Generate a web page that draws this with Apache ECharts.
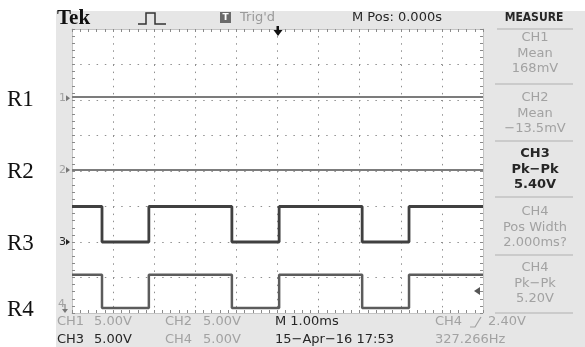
<!DOCTYPE html>
<html><head><meta charset="utf-8">
<script src="https://cdn.jsdelivr.net/npm/echarts@6/dist/echarts.min.js"></script>
<style>html,body{margin:0;padding:0;background:#fff}#c{width:585px;height:347px}</style>
</head><body><div id="c"></div>
<script>
// ---- data (time in ms, volts) ----
const edgeTimes = [-4.27, -3.13, -1.11, 0.04, 2.06, 3.20];
const ch3Levels = [5.0, 0.0, 5.0, 0.0, 5.0, 0.0, 5.0];
const ch4Levels = [4.7, 0.0, 4.7, 0.0, 4.7, 0.0, 4.7];
const ch1Levels = [0.168];
const ch2Levels = [-0.0135];
const channelLabels = ['R1', 'R2', 'R3', 'R4'];
const channelMarks = ['1', '2', '3', '4'];
const groundDiv = [2.05, 0.03, -2.0, -3.86];
const voltsPerDiv = [5, 5, 5, 5];
const triggerLevel = [2.40];
const measureChannels = ['CH1', 'CH2', 'CH3', 'CH4', 'CH4'];
const measureTypes = ['Mean', 'Mean', 'Pk\u2212Pk', 'Pos Width', 'Pk\u2212Pk'];
const measureValues = ['168mV', '\u221213.5mV', '5.40V', '2.000ms?', '5.20V'];
const measureActive = [false, false, true, false, false];
const bottomRow1 = [['CH1', 57, false], ['5.00V', 94, false], ['CH2', 165, false], ['5.00V', 203, false], ['M 1.00ms', 275, true], ['CH4', 435, false], ['2.40V', 488, false]];
const bottomRow2 = [['CH3', 57, true], ['5.00V', 94, true], ['CH4', 165, false], ['5.00V', 203, false], ['15\u2212Apr\u221216 17:53', 275, true], ['327.266Hz', 435, false]];

const tMin = -5, tMax = 5;
function stepData(levels, ground, vdiv) {
  const t = [tMin, ...(levels.length > 1 ? edgeTimes : []), tMax];
  const pts = [];
  for (let i = 0; i < levels.length; i++) {
    pts.push([t[i], ground + levels[i] / vdiv]);
    pts.push([t[i + 1], ground + levels[i] / vdiv]);
  }
  return pts;
}
const allLevels = [ch1Levels, ch2Levels, ch3Levels, ch4Levels];
const lineColors = ['#7c7c7c', '#7c7c7c', '#404040', '#5c5c5c'];
const lineWidths = [2, 2, 2.8, 2.5];

const FONT = 'DejaVu Sans';
const GRAY = '#a2a2a2', DARK = '#262626', PANEL = '#e6e6e6';

function axisCommon(pos, isX) {
  return {
    type: 'value', position: pos,
    min: isX ? tMin : -4, max: isX ? tMax : 4, interval: 1,
    axisLine: { show: true, onZero: false, lineStyle: { color: '#c4c4c4', width: 1 } },
    axisTick: { show: true, inside: true, length: 3, lineStyle: { color: '#8a8a8a' } },
    minorTick: { show: true, splitNumber: 5, length: 3, lineStyle: { color: '#8a8a8a' } },
    axisLabel: { show: false },
    splitLine: { show: pos === 'bottom' || pos === 'left', lineStyle: { color: '#8f8f8f', width: 1, type: isX ? [1.5, 5.6] : [1.5, 6.7] } }
  };
}

const chart = echarts.init(document.getElementById('c'), null, { renderer: 'canvas' });

const graphics = [];
// panels
graphics.push({ type: 'rect', shape: { x: 56, y: 11, width: 529, height: 18 }, style: { fill: PANEL }, z: 0 });
graphics.push({ type: 'rect', shape: { x: 56, y: 11, width: 16, height: 336 }, style: { fill: PANEL }, z: 0 });
graphics.push({ type: 'rect', shape: { x: 484, y: 11, width: 101, height: 336 }, style: { fill: PANEL }, z: 0 });
graphics.push({ type: 'rect', shape: { x: 56, y: 314, width: 529, height: 33 }, style: { fill: PANEL }, z: 0 });
// header
graphics.push({ type: 'text', x: 57, y: 19, style: { text: 'Tek', font: 'bold 21px "Liberation Serif"', fill: '#111', textVerticalAlign: 'middle' }, z: 5 });
graphics.push({ type: 'polyline', shape: { points: [[138, 24], [146, 24], [146, 13], [155, 13], [155, 24], [166, 24]] }, style: { stroke: '#333', lineWidth: 1.5, fill: null }, z: 5 });
graphics.push({ type: 'rect', shape: { x: 220, y: 12, width: 11, height: 11 }, style: { fill: '#6a6a6a' }, z: 5 });
graphics.push({ type: 'text', x: 225.5, y: 18, style: { text: 'T', font: 'bold 9px "DejaVu Sans"', fill: '#fff', textAlign: 'center', textVerticalAlign: 'middle' }, z: 6 });
graphics.push({ type: 'text', x: 240, y: 18, style: { text: "Trig'd", font: '13px "' + FONT + '"', fill: '#9a9a9a', textVerticalAlign: 'middle' }, z: 5 });
graphics.push({ type: 'text', x: 352, y: 18, style: { text: 'M Pos: 0.000s', font: '13px "' + FONT + '"', fill: DARK, textVerticalAlign: 'middle' }, z: 5 });
graphics.push({ type: 'text', x: 534, y: 18, style: { text: 'MEASURE', font: 'bold 12px "DejaVu Sans Condensed"', fill: DARK, textAlign: 'center', textVerticalAlign: 'middle' }, z: 5 });
graphics.push({ type: 'line', shape: { x1: 497, y1: 29, x2: 573, y2: 29 }, style: { stroke: '#b0b0b0', lineWidth: 1 }, z: 5 });
// measure panel
const rowTops = [38, 98, 154, 212, 268];
const sepYs = [84, 141, 197, 255, 313];
for (let i = 0; i < measureChannels.length; i++) {
  const col = measureActive[i] ? DARK : GRAY;
  const fw = measureActive[i] ? 'bold ' : '';
  const lines = [measureChannels[i], measureTypes[i], measureValues[i]];
  lines.forEach((s, k) => {
    graphics.push({ type: 'text', x: 535, y: rowTops[i] + k * 15.5, style: { text: s, font: fw + '13px "' + FONT + '"', fill: col, textAlign: 'center', textVerticalAlign: 'middle' }, z: 5 });
  });
  graphics.push({ type: 'line', shape: { x1: 495, y1: sepYs[i], x2: 573, y2: sepYs[i] }, style: { stroke: '#b0b0b0', lineWidth: 1 }, z: 5 });
}
// bottom rows
bottomRow1.forEach(([s, x, dark]) => graphics.push({ type: 'text', x: x, y: 322, style: { text: s, font: '13px "' + FONT + '"', fill: dark ? DARK : GRAY, textVerticalAlign: 'middle' }, z: 5 }));
bottomRow2.forEach(([s, x, dark]) => graphics.push({ type: 'text', x: x, y: 340, style: { text: s, font: '13px "' + FONT + '"', fill: dark ? DARK : GRAY, textVerticalAlign: 'middle' }, z: 5 }));
graphics.push({ type: 'polyline', shape: { points: [[470, 327], [475, 327], [481, 317]] }, style: { stroke: GRAY, lineWidth: 1.2, fill: null }, z: 5 });

const series = allLevels.map((lv, i) => ({
  type: 'line', name: channelLabels[i], data: stepData(lv, groundDiv[i], voltsPerDiv[i]),
  showSymbol: false, symbol: 'none', animation: false, silent: true,
  lineStyle: { color: lineColors[i], width: lineWidths[i] }, z: 3
}));

chart.setOption({
  animation: false,
  backgroundColor: '#ffffff',
  grid: { left: 72, right: 102, top: 29, bottom: 34, show: true, backgroundColor: '#ffffff', borderWidth: 0 },
  xAxis: [axisCommon('bottom', true), axisCommon('top', true)],
  yAxis: [axisCommon('left', false), axisCommon('right', false)],
  series: series,
  graphic: { elements: graphics }
});

// position-dependent decorations from the axes
const extra = [];
channelLabels.forEach((lab, i) => {
  const p = chart.convertToPixel({ gridIndex: 0 }, [tMin, groundDiv[i]]);
  extra.push({ type: 'text', x: 7, y: p[1] + 2, style: { text: lab, font: '23px "Liberation Serif"', fill: '#111', textVerticalAlign: 'middle' }, z: 5 });
  const mcol = i === 2 ? DARK : GRAY;
  if (i < 3) {
    extra.push({ type: 'text', x: 59, y: p[1], style: { text: channelMarks[i], font: '11px "' + FONT + '"', fill: mcol, textVerticalAlign: 'middle' }, z: 6 });
    extra.push({ type: 'polygon', shape: { points: [[66, p[1] - 3], [70, p[1]], [66, p[1] + 3]] }, style: { fill: i === 2 ? '#222' : '#777' }, z: 6 });
  } else {
    extra.push({ type: 'text', x: 58, y: p[1] - 4, style: { text: channelMarks[i], font: '11px "' + FONT + '"', fill: GRAY, textVerticalAlign: 'middle' }, z: 6 });
    extra.push({ type: 'polyline', shape: { points: [[65, p[1] - 4], [65, p[1] + 3]] }, style: { stroke: '#777', lineWidth: 1 }, z: 6 });
    extra.push({ type: 'polygon', shape: { points: [[62, p[1] + 1], [68, p[1] + 1], [65, p[1] + 5]] }, style: { fill: '#777' }, z: 6 });
  }
});
const trig = chart.convertToPixel({ gridIndex: 0 }, [tMax, groundDiv[3] + triggerLevel[0] / voltsPerDiv[3]]);
extra.push({ type: 'polygon', shape: { points: [[trig[0] - 9, trig[1]], [trig[0] - 3, trig[1] - 4], [trig[0] - 3, trig[1] + 4]] }, style: { fill: '#555' }, z: 6 });
const ctr = chart.convertToPixel({ gridIndex: 0 }, [0, 4]);
extra.push({ type: 'rect', shape: { x: ctr[0] - 1, y: ctr[1] - 3, width: 2.5, height: 4 }, style: { fill: '#111' }, z: 6 });
extra.push({ type: 'polygon', shape: { points: [[ctr[0] - 4, ctr[1] + 1], [ctr[0] + 5, ctr[1] + 1], [ctr[0] + 0.5, ctr[1] + 7]] }, style: { fill: '#111' }, z: 6 });

chart.setOption({ graphic: { elements: graphics.concat(extra) } });
</script></body></html>
